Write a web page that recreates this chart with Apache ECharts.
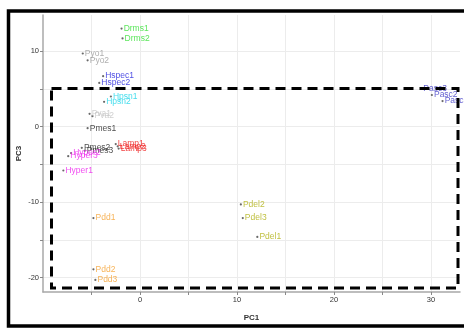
<!DOCTYPE html>
<html>
<head>
<meta charset="utf-8">
<script src="https://cdn.jsdelivr.net/npm/echarts@6/dist/echarts.min.js"></script>
<style>
  html, body { margin: 0; padding: 0; background: #fff; }
  #chart { width: 464px; height: 330px; }
</style>
</head>
<body>
<div id="chart"></div>
<script>
// sample labels and PCA scores
const sampleNames = [
  'Drms1', 'Drms2', 'Pyo1', 'Pyo2', 'Hspec1', 'Hspec2', 'Hpsn1', 'Hpsn2',
  'Pva1', 'Pva2', 'Pmes1', 'Pmes2', 'Pmes3', 'Hyper2', 'Hyper3', 'Hyper1',
  'Lamp1', 'Lamp2', 'Lamp3', 'Pdd1', 'Pdd2', 'Pdd3', 'Pdel2', 'Pdel3', 'Pdel1',
  'Pasc3', 'Pasc2', 'Pasc1'
];
const sampleGroup = [
  'Drms', 'Drms', 'Pyo', 'Pyo', 'Hspec', 'Hspec', 'Hpsn', 'Hpsn',
  'Pva', 'Pva', 'Pmes', 'Pmes', 'Pmes', 'Hyper', 'Hyper', 'Hyper',
  'Lamp', 'Lamp', 'Lamp', 'Pdd', 'Pdd', 'Pdd', 'Pdel', 'Pdel', 'Pdel',
  'Pasc', 'Pasc', 'Pasc'
];
const pc1 = [
  -1.9, -1.8, -5.9, -5.4, -3.8, -4.2, -3.0, -3.7,
  -5.2, -4.9, -5.4, -6.0, -5.7, -7.1, -7.4, -7.9,
  -2.5, -2.3, -2.2, -4.8, -4.8, -4.6, 10.4, 10.6, 12.1,
  29.0, 30.1, 31.2
];
const pc3 = [
  13.0, 11.7, 9.7, 8.8, 6.7, 5.8, 4.0, 3.3,
  1.7, 1.4, -0.2, -2.8, -3.2, -3.5, -3.9, -5.8,
  -2.3, -2.6, -2.9, -12.1, -18.9, -20.3, -10.3, -12.1, -14.6,
  5.0, 4.2, 3.4
];
const xTicks = [-5, 0, 5, 10, 15, 20, 25, 30];
const xLabels = [0, 10, 20, 30];
const yTicks = [-20, -15, -10, -5, 0, 5, 10];
const yLabels = [-20, -10, 0, 10];

const groupColor = {
  Drms: '#33e033', Pyo: '#9a9a9a', Hspec: '#2222dd', Hpsn: '#18d4e8',
  Pva: '#c4c4c4', Pmes: '#222222', Hyper: '#ee22ee', Lamp: '#ee1111',
  Pdd: '#f5a030', Pdel: '#b0b010', Pasc: '#3a36c4'
};
const groups = [...new Set(sampleGroup)];

const chart = echarts.init(document.getElementById('chart'));

const labelFont = '"Liberation Sans", Arial, sans-serif';

const series = groups.map(g => ({
  type: 'scatter',
  name: g,
  symbolSize: 2.2,
  itemStyle: { color: '#444' },
  label: {
    show: true,
    position: 'right',
    distance: 1,
    offset: [0, 3],
    formatter: p => p.name,
    color: groupColor[g],
    fontSize: 8.5,
    fontFamily: labelFont
  },
  labelLayout: { hideOverlap: false },
  data: sampleNames
    .map((n, i) => ({ name: n, value: [pc1[i], pc3[i]], g: sampleGroup[i] }))
    .filter(d => d.g === g)
    .map(d => ({ name: d.name, value: d.value }))
}));

const axisCommon = {
  type: 'value',
  nameLocation: 'middle',
  nameMoveOverlap: false,
  nameTextStyle: { fontSize: 8, fontWeight: 'bold', color: '#333', fontFamily: labelFont },
  axisLine: { show: true, onZero: false, lineStyle: { color: '#a8a8a8', width: 1.5 } },
  axisTick: { show: true, length: 3, lineStyle: { color: '#888' } },
  axisLabel: { fontSize: 7.5, color: '#333', margin: 4, fontFamily: labelFont },
  splitLine: { show: true, lineStyle: { color: '#ececec', width: 1 } }
};

chart.setOption({
  animation: false,
  backgroundColor: '#fff',
  grid: { left: 43, right: 4, top: 15, bottom: 38 },
  xAxis: Object.assign({}, axisCommon, {
    min: -10, max: 33,
    name: 'PC1', nameGap: 22,
    axisTick: Object.assign({}, axisCommon.axisTick, { customValues: xTicks }),
    axisLabel: Object.assign({}, axisCommon.axisLabel, { customValues: xLabels })
  }),
  yAxis: Object.assign({}, axisCommon, {
    min: -21.9, max: 14.8,
    name: 'PC3', nameGap: 20, nameRotate: 90,
    axisTick: Object.assign({}, axisCommon.axisTick, { customValues: yTicks }),
    axisLabel: Object.assign({}, axisCommon.axisLabel, { customValues: yLabels })
  }),
  series: series,
  graphic: [
    {
      type: 'rect',
      shape: { x: 8.5, y: 11, width: 460, height: 315 },
      style: { fill: null, stroke: '#000', lineWidth: 3.5 },
      silent: true
    },
    {
      type: 'rect',
      shape: { x: 51.5, y: 88.5, width: 406.5, height: 199.5 },
      style: { fill: null, stroke: '#000', lineWidth: 3, lineDash: [10, 6] },
      silent: true,
      z: 100
    }
  ]
});
</script>
</body>
</html>
